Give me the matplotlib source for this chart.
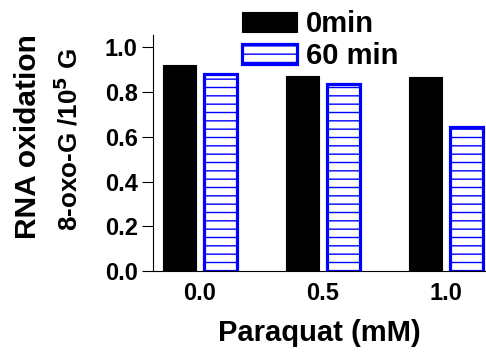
import matplotlib
matplotlib.use('Agg')
import matplotlib.pyplot as plt
import numpy as np

plt.rcParams['font.family'] = ['Liberation Sans', 'DejaVu Sans']
plt.rcParams['font.weight'] = 'bold'
plt.rcParams['hatch.linewidth'] = 1.0

doses = ['0.0', '0.5', '1.0']
ox_0min = [0.92, 0.87, 0.865]
ox_60min = [0.88, 0.835, 0.645]
series_labels = ['0min', '60 min']

fig = plt.figure(figsize=(4.86, 3.54), dpi=100)
ax = fig.add_axes([0.315, 0.234, 0.685, 0.667])

x = np.arange(len(doses))
w = 0.27
off = 0.165
ax.bar(x - off, ox_0min, w, color='black', edgecolor='black', linewidth=0.8,
       label=series_labels[0])
ax.bar(x + off, ox_60min, w, color='white', edgecolor='#0000ff', linewidth=2.3,
       hatch='--', label=series_labels[1])

ax.set_xlim(-0.38, 2.325)
ax.set_ylim(0, 1.054)
ax.set_yticks([0.0, 0.2, 0.4, 0.6, 0.8, 1.0])
ax.set_yticklabels(['0.0', '0.2', '0.4', '0.6', '0.8', '1.0'])
ax.set_xticks(x)
ax.set_xticklabels(doses)
ax.tick_params(axis='y', length=8, width=0.8, pad=3, labelsize=17)
ax.tick_params(axis='x', length=0, pad=8, labelsize=17)
for lbl in ax.get_xticklabels() + ax.get_yticklabels():
    lbl.set_fontweight('bold')

for s in ['top', 'right']:
    ax.spines[s].set_visible(False)
for s in ['left', 'bottom']:
    ax.spines[s].set_linewidth(0.8)

ax.set_xlabel('Paraquat (mM)', fontsize=21, fontweight='bold', labelpad=10)

fig.text(0.058, 0.613, 'RNA oxidation', rotation=90, fontsize=21.5,
         fontweight='bold', ha='center', va='center')
fig.text(0.14, 0.605, '8-oxo-G /10$^{\\mathbf{5}}$ G', rotation=90, fontsize=18.7,
         fontweight='bold', ha='center', va='center')

leg = fig.legend(loc='upper left', bbox_to_anchor=(0.462, 1.021), frameon=False,
                 prop={'weight': 'bold', 'size': 21},
                 handlelength=1.9, handleheight=0.65, handletextpad=0.3,
                 borderpad=0.1, labelspacing=0.15)

fig.savefig('out.png', dpi=100)
